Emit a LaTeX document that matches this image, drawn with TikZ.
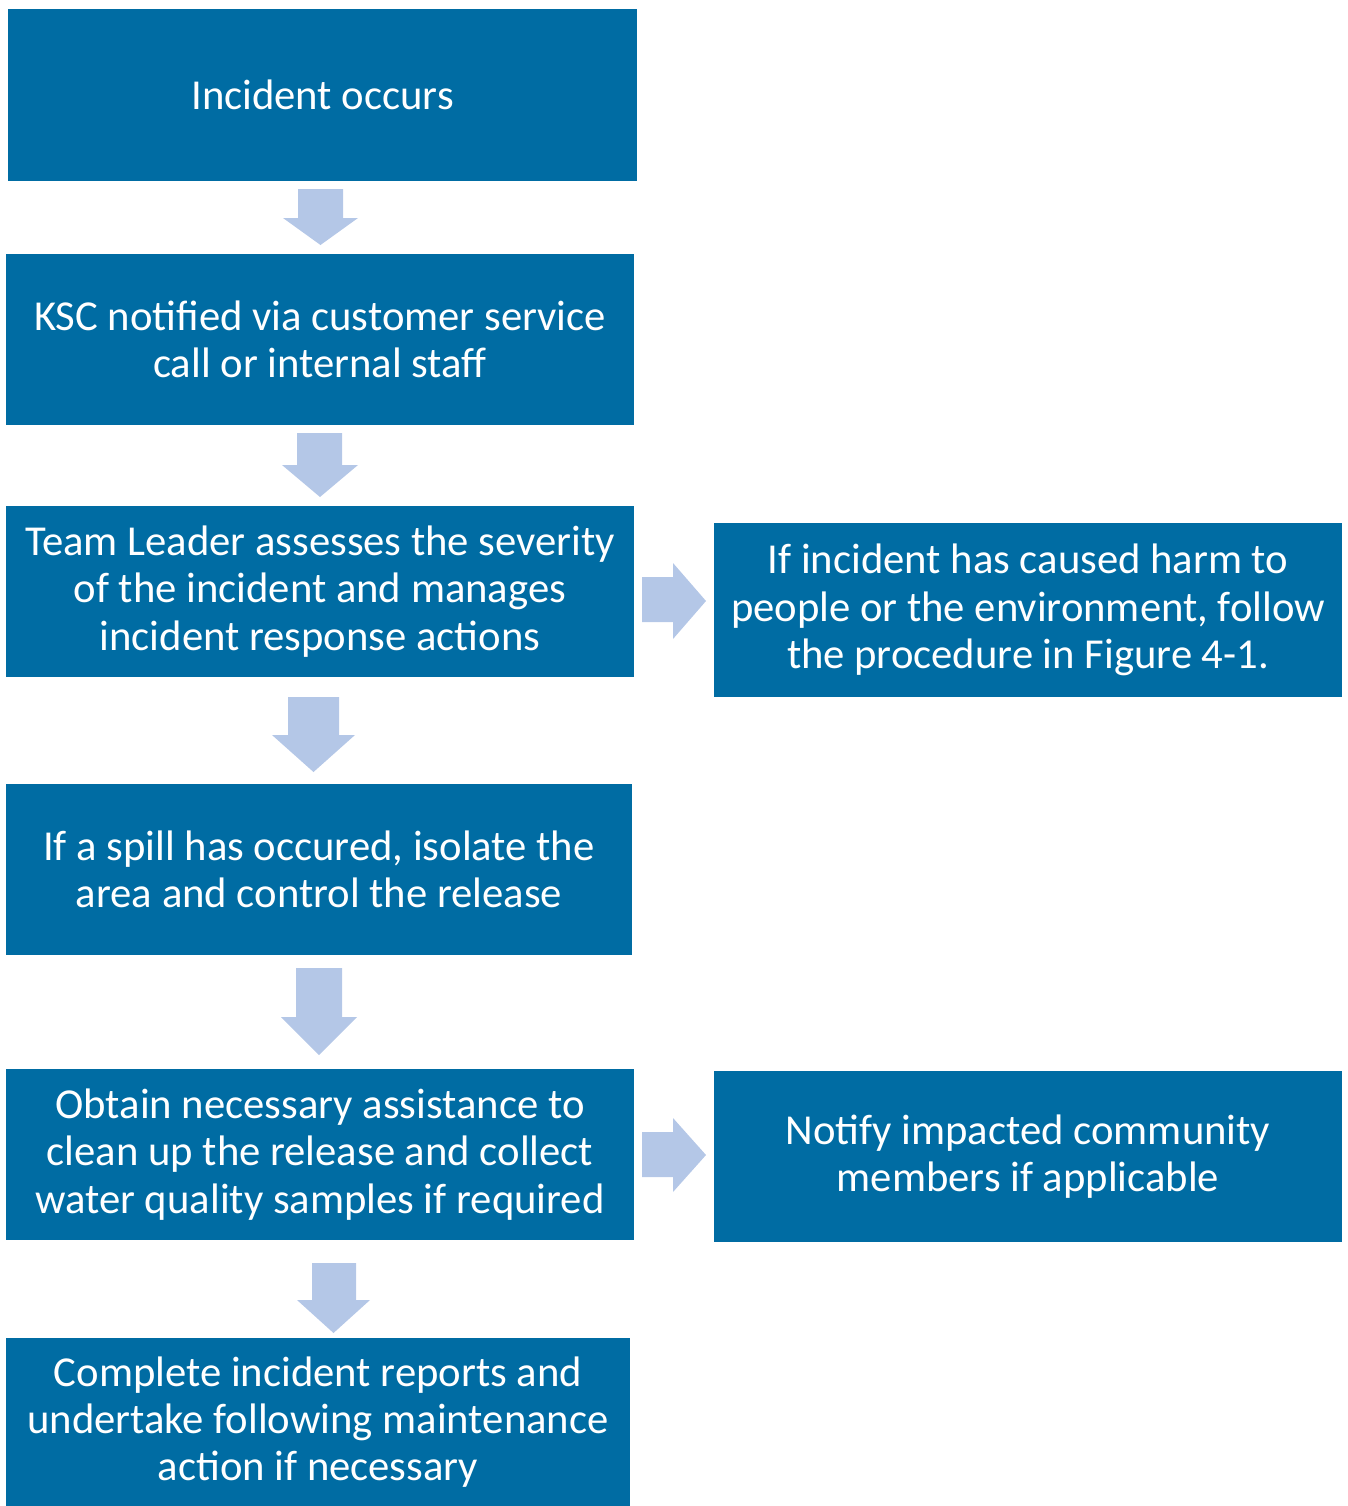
\documentclass[tikz,border=0pt]{standalone}
\usepackage{fontspec}
\setmainfont{Carlito}
\definecolor{boxblue}{HTML}{006CA3}
\definecolor{arrowblue}{HTML}{B4C7E7}
\begin{document}
\begin{tikzpicture}[x=0.75pt,y=-0.75pt,
  flowbox/.style={fill=boxblue,draw=none,text=white,align=center,inner sep=0pt,
     font=\fontsize{32}{35.5}\selectfont},
  blockarrow/.style={fill=arrowblue,draw=none}]
\useasboundingbox (0,0) rectangle (1347,1506);
% boxes (x1,y1,x2,y2)
\newcommand{\flowbx}[6]{%
  \node[flowbox,minimum width={(#4-#2)*0.75pt},minimum height={(#5-#3)*0.75pt}]
    (#1) at ({(#2+#4)/2},{(#3+#5)/2}) {#6};}
\flowbx{b1}{8}{9}{637}{181}{Incident occurs}
\flowbx{b2}{6}{254}{634}{425}{KSC notified via customer service\\call or internal staff}
\flowbx{b3}{6}{506}{634}{677}{Team Leader assesses the severity\\of the incident and manages\\incident response actions}
\flowbx{b4}{714}{523}{1342}{697}{If incident has caused harm to\\people or the environment, follow\\the procedure in Figure 4-1.}
\flowbx{b5}{6}{784}{632}{955}{If a spill has occured, isolate the\\area and control the release}
\flowbx{b6}{6}{1069}{634}{1240}{Obtain necessary assistance to\\clean up the release and collect\\water quality samples if required}
\flowbx{b7}{714}{1071}{1342}{1242}{Notify impacted community\\members if applicable}
\flowbx{b8}{6}{1338}{630}{1506}{Complete incident reports and\\undertake following maintenance\\action if necessary}
% down arrows: shaft x1,x2, head x1,x2, top, headstart, tip
\newcommand{\darr}[7]{%
  \fill[blockarrow] (#1,#5) -- (#2,#5) -- (#2,#6) -- (#4,#6) -- ({(#3+#4)/2},#7)
    -- (#3,#6) -- (#1,#6) -- cycle;}
\darr{298}{343}{283}{358}{189}{218}{245}
\darr{297}{342}{282}{358}{433}{465}{497}
\darr{288}{339}{272}{355}{697}{735}{772}
\darr{296}{342}{281}{357}{968}{1017}{1055}
\darr{312}{356}{297}{370}{1263}{1300}{1333}
% right arrows: shaft y1,y2, head y1,y2, left, headstart, tip
\newcommand{\rarr}[7]{%
  \fill[blockarrow] (#5,#1) -- (#6,#1) -- (#6,#3) -- (#7,{(#3+#4)/2}) -- (#6,#4)
    -- (#6,#2) -- (#5,#2) -- cycle;}
\rarr{577}{622}{563}{639}{642}{673}{706}
\rarr{1132}{1177}{1118}{1192}{642}{673}{706}
\end{tikzpicture}
\end{document}
